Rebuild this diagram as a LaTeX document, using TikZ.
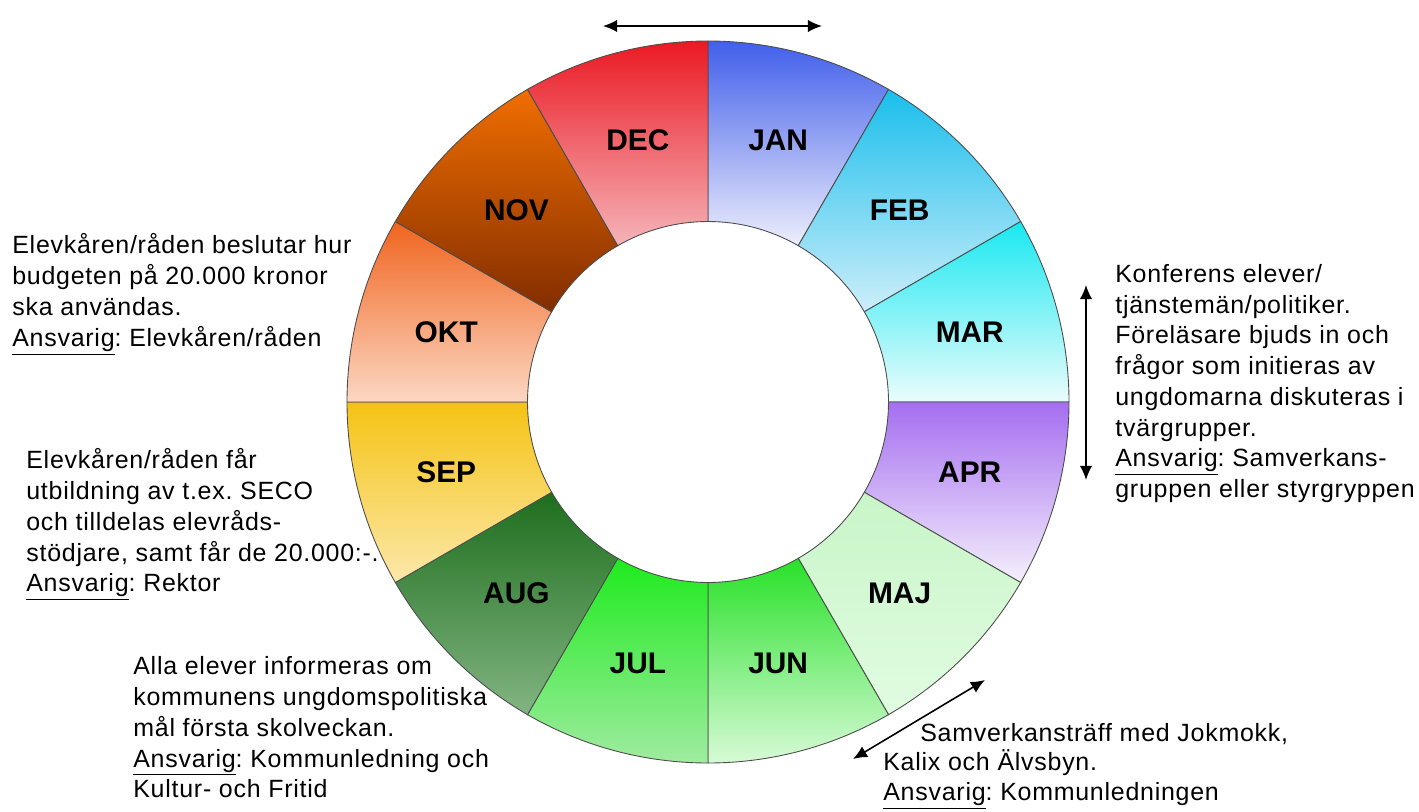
\documentclass[tikz,border=0pt]{standalone}
\usepackage{fontspec}
\setmainfont{Liberation Sans}
\newfontfamily\notefont{Liberation Sans}[LetterSpace=3]
\usepackage{xcolor}
\usepackage{tikz}
\usetikzlibrary{arrows.meta,calc,positioning}
\frenchspacing

\definecolor{decA}{RGB}{235,25,35}   \definecolor{decB}{RGB}{245,180,185}
\definecolor{janA}{RGB}{65,95,235}   \definecolor{janB}{RGB}{238,238,252}
\definecolor{febA}{RGB}{25,190,235}  \definecolor{febB}{RGB}{205,238,250}
\definecolor{marA}{RGB}{25,232,240}  \definecolor{marB}{RGB}{235,252,252}
\definecolor{aprA}{RGB}{165,110,240} \definecolor{aprB}{RGB}{245,240,252}
\definecolor{majA}{RGB}{200,245,200} \definecolor{majB}{RGB}{225,252,225}
\definecolor{junA}{RGB}{40,225,40}   \definecolor{junB}{RGB}{215,250,215}
\definecolor{julA}{RGB}{30,235,30}   \definecolor{julB}{RGB}{160,235,160}
\definecolor{augA}{RGB}{30,110,30}   \definecolor{augB}{RGB}{130,180,130}
\definecolor{sepA}{RGB}{245,195,20}  \definecolor{sepB}{RGB}{252,232,170}
\definecolor{oktA}{RGB}{240,100,30}  \definecolor{oktB}{RGB}{252,215,195}
\definecolor{novA}{RGB}{240,110,0}   \definecolor{novB}{RGB}{130,45,0}

\begin{document}
\begin{tikzpicture}

\tikzset{seg/.style 2 args = {top color=#1,bottom color=#2,draw=black!70,line width=0.5pt}}
\tikzset{month/.style = {font=\fontsize{17}{20}\selectfont\bfseries}}
\tikzset{note/.style = {font=\notefont\fontsize{14.2}{17.5}\selectfont,align=left,anchor=north west,inner sep=0pt}}
\tikzset{span/.style = {<->,>={Latex[length=8pt,width=7pt]},line width=0.9pt}}

\useasboundingbox (0,0) rectangle (28.38,-16.22);
\coordinate (c) at (14.16,-8.04);

% ring
\begin{scope}[shift={(c)}]
\shadedraw[seg={janA}{janB}] (60:7.22) arc (60:90:7.22) -- (90:3.61) arc (90:60:3.61) -- cycle;
\shadedraw[seg={febA}{febB}] (30:7.22) arc (30:60:7.22) -- (60:3.61) arc (60:30:3.61) -- cycle;
\shadedraw[seg={marA}{marB}] (0:7.22) arc (0:30:7.22) -- (30:3.61) arc (30:0:3.61) -- cycle;
\shadedraw[seg={aprA}{aprB}] (-30:7.22) arc (-30:0:7.22) -- (0:3.61) arc (0:-30:3.61) -- cycle;
\shadedraw[seg={majA}{majB}] (-60:7.22) arc (-60:-30:7.22) -- (-30:3.61) arc (-30:-60:3.61) -- cycle;
\shadedraw[seg={junA}{junB}] (-90:7.22) arc (-90:-60:7.22) -- (-60:3.61) arc (-60:-90:3.61) -- cycle;
\shadedraw[seg={julA}{julB}] (-120:7.22) arc (-120:-90:7.22) -- (-90:3.61) arc (-90:-120:3.61) -- cycle;
\shadedraw[seg={augA}{augB}] (-150:7.22) arc (-150:-120:7.22) -- (-120:3.61) arc (-120:-150:3.61) -- cycle;
\shadedraw[seg={sepA}{sepB}] (-180:7.22) arc (-180:-150:7.22) -- (-150:3.61) arc (-150:-180:3.61) -- cycle;
\shadedraw[seg={oktA}{oktB}] (150:7.22) arc (150:180:7.22) -- (180:3.61) arc (180:150:3.61) -- cycle;
\shadedraw[seg={novA}{novB}] (120:7.22) arc (120:150:7.22) -- (150:3.61) arc (150:120:3.61) -- cycle;
\shadedraw[seg={decA}{decB}] (90:7.22) arc (90:120:7.22) -- (120:3.61) arc (120:90:3.61) -- cycle;

% months
\node[month] (jan) at (75:5.42) {JAN};
\node[month] (feb) at (45:5.42) {FEB};
\node[month] (mar) at (15:5.42) {MAR};
\node[month] (apr) at (-15:5.42) {APR};
\node[month] (maj) at (-45:5.42) {MAJ};
\node[month] (jun) at (-75:5.42) {JUN};
\node[month] (jul) at (-105:5.42) {JUL};
\node[month] (aug) at (-135:5.42) {AUG};
\node[month] (sep) at (-165:5.42) {SEP};
\node[month] (okt) at (165:5.42) {OKT};
\node[month] (nov) at (135:5.42) {NOV};
\node[month] (dec) at (105:5.42) {DEC};
\end{scope}

% notes
\node[note] (budget) at (0.24,-4.67) {Elevkåren/råden beslutar hur\\budgeten på 20.000 kronor\\ska användas.\\\underline{Ansvarig}: Elevkåren/råden};
\node[note] (utbildning) at (0.52,-8.97) {Elevkåren/råden får\\utbildning av t.ex. SECO\\och tilldelas elevråds-\\stödjare, samt får de 20.000:-.\\\underline{Ansvarig}: Rektor};
\node[note] (info) at (2.66,-13.13) {Alla elever informeras om\\kommunens ungdomspolitiska\\mål första skolveckan.\\\underline{Ansvarig}: Kommunledning och\\Kultur- och Fritid};
\node[note] (konferens) at (22.30,-5.28) {Konferens elever/\\tjänstemän/politiker.\\Föreläsare bjuds in och\\frågor som initieras av\\ungdomarna diskuteras i\\tvärgrupper.\\\underline{Ansvarig}: Samverkans-\\gruppen eller styrgryppen};
\node[note,font=\notefont\fontsize{14.2}{16.8}\selectfont] (traff) at (17.66,-14.46) {\hspace*{0.74cm}Samverkansträff med Jokmokk,\\Kalix och Älvsbyn.\\\underline{Ansvarig}: Kommunledningen};

% arrows
\coordinate (topL) at (12.06,-0.52);
\coordinate (topR) at (16.44,-0.52);
\coordinate (rightT) at (21.72,-5.70);
\coordinate (rightB) at (21.72,-9.60);
\coordinate (diagL) at (17.06,-15.18);
\coordinate (diagR) at (19.70,-13.60);
\draw[span] (topL) -- (topR);
\draw[span] (rightT) -- (rightB);
\draw[span] (diagL) -- (diagR);
\end{tikzpicture}
\end{document}
